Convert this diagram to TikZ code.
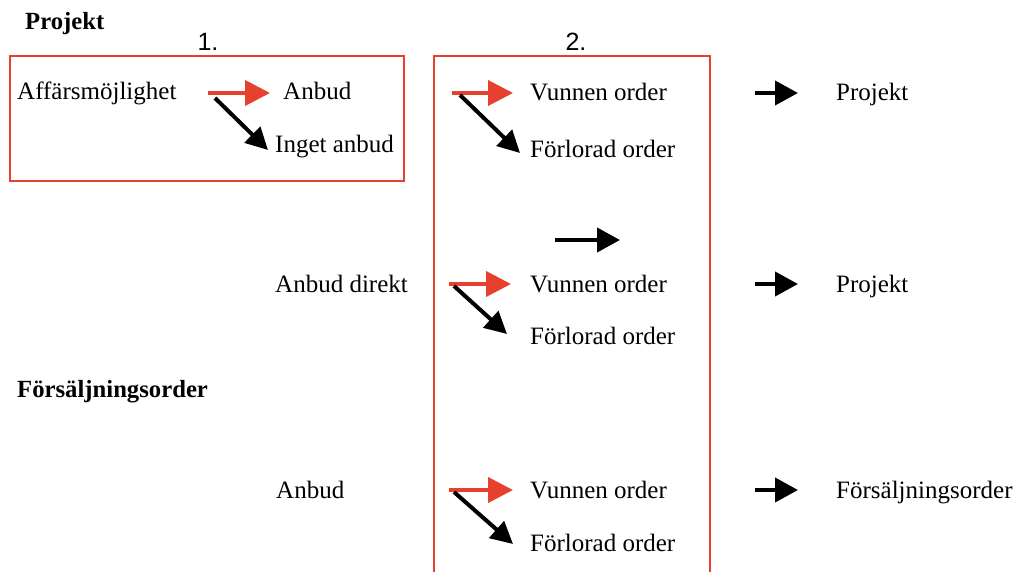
\documentclass[tikz,border=0pt]{standalone}
\usepackage{fontspec}
\setmainfont{Liberation Serif}
\newfontfamily\numfont{Liberation Sans}
\usetikzlibrary{arrows.meta}
\definecolor{boxred}{HTML}{E8402F}
\begin{document}
\begin{tikzpicture}[x=1pt,y=-1pt,
 lbl/.style={anchor=base west,inner sep=0pt,font=\fontsize{25}{28}\selectfont},
 hdr/.style={anchor=base west,inner sep=0pt,font=\fontsize{24.7}{28}\selectfont\bfseries},
 num/.style={anchor=base,inner sep=0pt,font=\fontsize{25}{28}\selectfont\numfont},
 frame/.style={draw=boxred,line width=2.8pt},
 redarr/.style={draw=boxred,line width=4pt,-{Triangle[length=25pt,width=25pt]}},
 blkarr/.style={draw=black,line width=4pt,-{Triangle[length=23pt,width=24pt]}},
 diagarr/.style={draw=black,line width=4pt,-{Triangle[length=22pt,width=22pt]}},
]
\path[use as bounding box,clip] (0,0) rectangle (1017,572);

% frames
\draw[frame] (10,56) rectangle (404,181);
\draw[frame] (434,600) -- (434,56) -- (710,56) -- (710,600);

% headers and numbers
\node[hdr] (hProj) at (25,30) {Projekt};
\node[hdr] (hFors) at (17,397) {Försäljningsorder};
\node[num] (n1) at (208,51) {1.};
\node[num] (n2) at (576,51) {2.};

% block 1
\node[lbl] (aff) at (17,100) {Affärsmöjlighet};
\node[lbl] (anb1) at (283,100) {Anbud};
\node[lbl] (inget) at (275,153) {Inget anbud};
\coordinate (r0s) at (208,93); \coordinate (r0e) at (270,93);
\coordinate (d0s) at (215,98); \coordinate (d0e) at (268,150);
\draw[redarr] (r0s) -- (r0e);
\draw[diagarr] (d0s) -- (d0e);

% row 1
\node[lbl] (v1) at (530,101) {Vunnen order};
\node[lbl] (f1) at (530,158) {Förlorad order};
\node[lbl] (p1) at (836,101) {Projekt};
\coordinate (r1s) at (452,93); \coordinate (r1e) at (513,93);
\coordinate (d1s) at (460,95); \coordinate (d1e) at (520,153);
\coordinate (b1s) at (755,93); \coordinate (b1e) at (798,93);
\draw[redarr] (r1s) -- (r1e);
\draw[diagarr] (d1s) -- (d1e);
\draw[blkarr] (b1s) -- (b1e);

% standalone arrow
\coordinate (sas) at (555,240); \coordinate (sae) at (620,240);
\draw[blkarr] (sas) -- (sae);

% row 2
\node[lbl] (ad) at (275,292) {Anbud direkt};
\node[lbl] (v2) at (530,292) {Vunnen order};
\node[lbl] (f2) at (530,344) {Förlorad order};
\node[lbl] (p2) at (836,292) {Projekt};
\coordinate (r2s) at (449,284); \coordinate (r2e) at (511,284);
\coordinate (d2s) at (454,286); \coordinate (d2e) at (507,334);
\coordinate (b2s) at (755,284); \coordinate (b2e) at (798,284);
\draw[redarr] (r2s) -- (r2e);
\draw[diagarr] (d2s) -- (d2e);
\draw[blkarr] (b2s) -- (b2e);

% row 3
\node[lbl] (anb3) at (276,498) {Anbud};
\node[lbl] (v3) at (530,498) {Vunnen order};
\node[lbl] (f3) at (530,551) {Förlorad order};
\node[lbl] (fo3) at (836,498) {Försäljningsorder};
\coordinate (r3s) at (449,490); \coordinate (r3e) at (513,490);
\coordinate (d3s) at (454,492); \coordinate (d3e) at (513,544);
\coordinate (b3s) at (755,490); \coordinate (b3e) at (798,490);
\draw[redarr] (r3s) -- (r3e);
\draw[diagarr] (d3s) -- (d3e);
\draw[blkarr] (b3s) -- (b3e);
\end{tikzpicture}
\end{document}
